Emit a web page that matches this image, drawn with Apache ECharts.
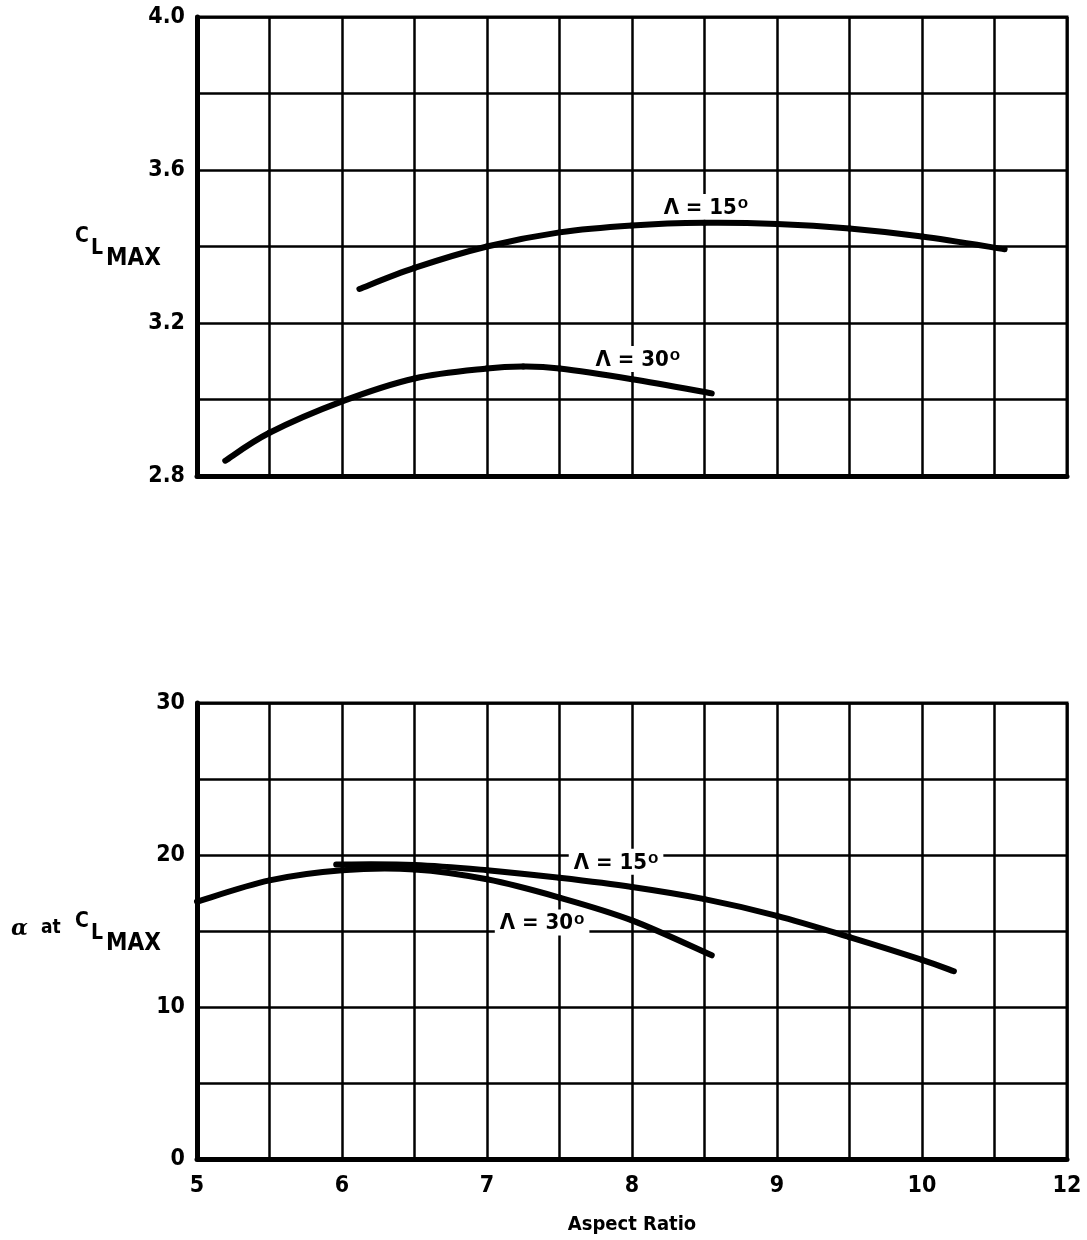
<!DOCTYPE html>
<html>
<head>
<meta charset="utf-8">
<script src="https://cdn.jsdelivr.net/npm/echarts@6/dist/echarts.min.js"></script>
<style>
html,body{margin:0;padding:0;background:#fff;}
#chart{width:1087px;height:1240px;}
</style>
</head>
<body>
<div id="chart"></div>
<script>
// ---- data ----
var xTickValues = [5, 6, 7, 8, 9, 10, 11];
var xTickLabels = ['5', '6', '7', '8', '9', '10', '12'];
var topYTicks = [2.8, 3.2, 3.6, 4.0];
var topYLabels = ['2.8', '3.2', '3.6', '4.0'];
var botYTicks = [0, 10, 20, 30];
var botYLabels = ['0', '10', '20', '30'];

// C_Lmax vs aspect ratio
var clmax15X = [6.12, 6.5, 7.0, 7.5, 8.0, 8.5, 9.0, 9.5, 10.0, 10.57];
var clmax15Y = [3.289, 3.344, 3.400, 3.437, 3.455, 3.462, 3.459, 3.447, 3.426, 3.393];
var clmax30X = [5.195, 5.5, 6.0, 6.5, 7.0, 7.25, 7.5, 8.0, 8.55];
var clmax30Y = [2.84, 2.913, 2.995, 3.055, 3.081, 3.086, 3.081, 3.053, 3.016];

// alpha at C_Lmax vs aspect ratio
var alpha15X = [5.96, 6.5, 7.0, 7.5, 8.0, 8.5, 9.0, 9.5, 10.0, 10.22];
var alpha15Y = [19.38, 19.35, 19.0, 18.5, 17.9, 17.1, 16.0, 14.6, 13.1, 12.35];
var alpha30X = [5.0, 5.5, 6.0, 6.5, 7.0, 7.5, 8.0, 8.55];
var alpha30Y = [16.93, 18.33, 19.0, 19.05, 18.4, 17.2, 15.7, 13.4];

// curve label sweep angles
var labelDeg = ['15', '30', '15', '30'];

function zip(xs, ys) { return xs.map(function (x, i) { return [x, ys[i]]; }); }

var FONT = '"Liberation Sans Narrow", "DejaVu Sans Condensed", "Liberation Sans", Arial, sans-serif';
var FONT2 = '"Liberation Sans", Arial, sans-serif';

function tickFmt(vals, labels) {
  return function (v) {
    for (var i = 0; i < vals.length; i++) {
      if (Math.abs(v - vals[i]) < 1e-6) return labels[i];
    }
    return '';
  };
}

var split = { show: true, lineStyle: { color: '#000', width: 2.5 } };
var tickLabelStyle = { color: '#000', fontFamily: FONT, fontWeight: 'bold', fontSize: 23 };

// smooth curve through the data points (Catmull-Rom), positioned with the axes' own scales
function curveSeries(xs, ys, gridIdx) {
  var pts = zip(xs, ys);
  return {
    type: 'custom', xAxisIndex: gridIdx, yAxisIndex: gridIdx, z: 5,
    data: pts,
    renderItem: function (params, api) {
      if (params.dataIndex !== 0) return null;
      var p = pts.map(function (d) { return api.coord(d); });
      var n = p.length;
      var children = [];
      for (var i = 0; i < n - 1; i++) {
        var p0 = p[Math.max(i - 1, 0)], p1 = p[i], p2 = p[i + 1], p3 = p[Math.min(i + 2, n - 1)];
        children.push({
          type: 'bezierCurve',
          shape: {
            x1: p1[0], y1: p1[1], x2: p2[0], y2: p2[1],
            cpx1: p1[0] + (p2[0] - p0[0]) / 6, cpy1: p1[1] + (p2[1] - p0[1]) / 6,
            cpx2: p2[0] - (p3[0] - p1[0]) / 6, cpy2: p2[1] - (p3[1] - p1[1]) / 6
          },
          style: { stroke: '#000', lineWidth: 6, fill: null, lineCap: 'round' }
        });
      }
      return { type: 'group', children: children };
    }
  };
}

function lambdaSeries(deg, coord, gridIdx) {
  return {
    type: 'scatter', xAxisIndex: gridIdx, yAxisIndex: gridIdx, z: 4,
    data: [coord], symbol: 'rect', symbolSize: 1,
    itemStyle: { color: 'rgba(0,0,0,0)', opacity: 1 },
    emphasis: { disabled: true },
    silent: true,
    label: {
      show: true, position: 'inside', color: '#000', opacity: 1,
      formatter: '{n|Λ = ' + deg + '}{d|o}',
      backgroundColor: '#ffffff', padding: [1, 5, 1, 5],
      rich: {
        n: { fontFamily: FONT, fontWeight: 'bold', fontSize: 22, color: '#000', lineHeight: 24, verticalAlign: 'bottom' },
        d: { fontFamily: FONT2, fontWeight: 'bold', fontSize: 17, color: '#000', lineHeight: 24, verticalAlign: 'top', padding: [0, 0, 10, 1] }
      }
    }
  };
}

var option = {
  backgroundColor: '#fff',
  animation: false,
  grid: [
    { left: 197, right: 20, top: 17, height: 459, show: true, borderColor: '#000', borderWidth: 3, backgroundColor: 'transparent' },
    { left: 197, right: 20, top: 703, height: 456, show: true, borderColor: '#000', borderWidth: 3, backgroundColor: 'transparent' }
  ],
  xAxis: [
    { gridIndex: 0, type: 'value', min: 5, max: 11, interval: 0.5,
      axisLine: { show: true, lineStyle: { color: '#000', width: 5 } },
      axisTick: { show: false }, axisLabel: { show: false }, splitLine: split },
    { gridIndex: 1, type: 'value', min: 5, max: 11, interval: 0.5,
      name: 'Aspect Ratio', nameLocation: 'middle', nameGap: 56,
      nameTextStyle: { fontFamily: FONT, fontWeight: 'bold', fontSize: 20, color: '#000' },
      axisLine: { show: true, lineStyle: { color: '#000', width: 5 } },
      axisTick: { show: false },
      axisLabel: Object.assign({ show: true, margin: 16, formatter: tickFmt(xTickValues, xTickLabels),
        showMinLabel: true, showMaxLabel: true }, tickLabelStyle),
      splitLine: split }
  ],
  yAxis: [
    { gridIndex: 0, type: 'value', min: 2.8, max: 4.0, interval: 0.2,
      axisLine: { show: true, lineStyle: { color: '#000', width: 5 } },
      axisTick: { show: false },
      axisLabel: Object.assign({ show: true, margin: 12, formatter: tickFmt(topYTicks, topYLabels) }, tickLabelStyle),
      splitLine: split },
    { gridIndex: 1, type: 'value', min: 0, max: 30, interval: 5,
      axisLine: { show: true, lineStyle: { color: '#000', width: 5 } },
      axisTick: { show: false },
      axisLabel: Object.assign({ show: true, margin: 12, formatter: tickFmt(botYTicks, botYLabels) }, tickLabelStyle),
      splitLine: split }
  ],
  series: [
    curveSeries(clmax15X, clmax15Y, 0),
    curveSeries(clmax30X, clmax30Y, 0),
    curveSeries(alpha15X, alpha15Y, 1),
    curveSeries(alpha30X, alpha30Y, 1),
    lambdaSeries(labelDeg[0], [8.51, 3.503], 0),
    lambdaSeries(labelDeg[1], [8.04, 3.106], 0),
    lambdaSeries(labelDeg[2], [7.89, 19.55], 1),
    lambdaSeries(labelDeg[3], [7.38, 15.56], 1)
  ],
  graphic: [
    { type: 'text', left: 75, top: 226, style: { text: 'C', font: 'bold 21px ' + FONT, fill: '#000' } },
    { type: 'text', left: 91, top: 238, style: { text: 'L', font: 'bold 21px ' + FONT, fill: '#000' } },
    { type: 'text', left: 106, top: 247, style: { text: 'MAX', font: 'bold 24px ' + FONT, fill: '#000' } },
    { type: 'text', left: 11, top: 918, style: { text: 'α', font: 'italic bold 22px "DejaVu Serif", serif', fill: '#000' } },
    { type: 'text', left: 41, top: 919, style: { text: 'at', font: 'bold 19px ' + FONT, fill: '#000' } },
    { type: 'text', left: 75, top: 911, style: { text: 'C', font: 'bold 21px ' + FONT, fill: '#000' } },
    { type: 'text', left: 91, top: 923, style: { text: 'L', font: 'bold 21px ' + FONT, fill: '#000' } },
    { type: 'text', left: 106, top: 932, style: { text: 'MAX', font: 'bold 24px ' + FONT, fill: '#000' } }
  ]
};

var chart = echarts.init(document.getElementById('chart'), null, { renderer: 'canvas' });
chart.setOption(option);
</script>
</body>
</html>
